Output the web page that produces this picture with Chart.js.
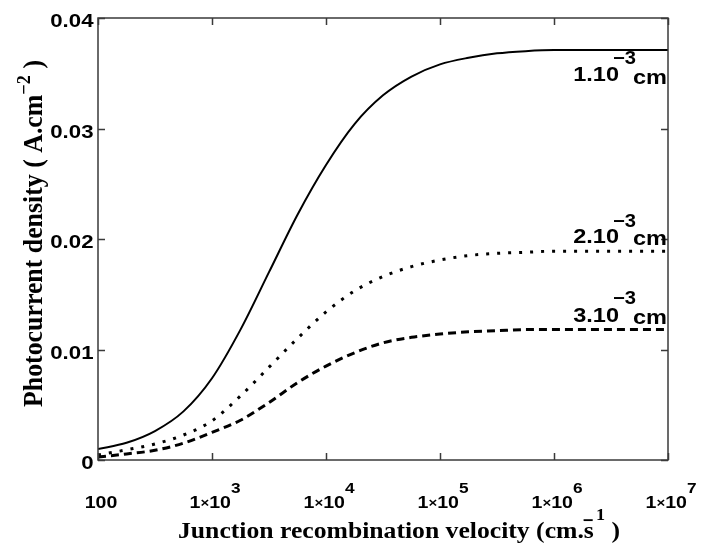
<!DOCTYPE html>
<html>
<head>
<meta charset="utf-8">
<script src="https://cdn.jsdelivr.net/npm/chart.js@4.4.0/dist/chart.umd.min.js"></script>
<style>
  html, body { margin: 0; padding: 0; background: #fff; }
  #wrap { width: 703px; height: 547px; }
</style>
</head>
<body>
<div id="wrap"><canvas id="chart" width="703" height="547"></canvas></div>
<script>
// junction recombination velocity (cm/s), quarter decades
const velocities = [100, 178, 316, 562, 1000, 1778, 3162, 5623, 10000, 17783, 31623, 56234,
                    100000, 177828, 316228, 562341, 1000000, 3162278, 10000000];
// photocurrent density (A/cm2) for the three depths
const current1 = [0.00099, 0.00156, 0.00262, 0.00440, 0.0074, 0.0118, 0.0170, 0.0222, 0.0267, 0.0304,
                  0.0330, 0.0347, 0.0358, 0.0364, 0.0368, 0.0370, 0.0371, 0.0371, 0.0371];
const current2 = [0.00045, 0.00092, 0.00145, 0.00226, 0.00355, 0.0058, 0.0084, 0.0110, 0.0134, 0.0153,
                  0.0166, 0.0175, 0.0181, 0.0185, 0.0187, 0.0188, 0.0189, 0.0189, 0.0189];
const current3 = [0.00027, 0.00055, 0.00088, 0.00152, 0.00250, 0.0036, 0.0052, 0.0070, 0.0085, 0.0097,
                  0.0106, 0.0111, 0.0114, 0.0116, 0.0117, 0.0118, 0.0118, 0.0118, 0.0118];
const curveNames = ["1.10", "2.10", "3.10"];

const xTicks = [100, 1000, 10000, 100000, 1000000, 10000000];
const xTickExp = ["", "3", "4", "5", "6", "7"];
const yTicks = [0, 0.01, 0.02, 0.03, 0.04];
const yTickLabels = ["0", "0.01", "0.02", "0.03", "0.04"];

const SANS = '"Liberation Sans", Arial, sans-serif';
const SERIF = '"Liberation Serif", "Times New Roman", serif';

function toPoints(ys) {
    return velocities.map((v, i) => ({ x: v, y: ys[i] }));
}

// draw a run of text pieces (for superscripts), scaled by sx / sy
// a piece with stay:true is drawn at an offset and does not move the pen
function drawRuns(ctx, runs, x, y, sx, sy, rot) {
    ctx.save();
    ctx.translate(x, y);
    if (rot) ctx.rotate(rot);
    ctx.scale(sx, sy);
    ctx.fillStyle = "#000";
    ctx.textAlign = "left";
    ctx.textBaseline = "alphabetic";
    let cx = 0;
    runs.forEach(r => {
        ctx.font = r.font;
        if (r.stay) {
            ctx.fillText(r.t, cx + (r.dx || 0), r.dy || 0);
        } else {
            cx += (r.dx || 0);
            ctx.fillText(r.t, cx, r.dy || 0);
            cx += ctx.measureText(r.t).width;
        }
    });
    ctx.restore();
}

function runsWidth(ctx, runs) {
    let w = 0;
    runs.forEach(r => {
        ctx.font = r.font;
        if (!r.stay) w += (r.dx || 0) + ctx.measureText(r.t).width;
    });
    return w;
}

const framePlugin = {
    id: "frame",
    afterDraw(chart) {
        const ctx = chart.ctx;
        const a = chart.chartArea;
        const xs = chart.scales.x;
        const ys = chart.scales.y;

        // box and inward ticks
        ctx.save();
        ctx.strokeStyle = "#3a3a3a";
        ctx.lineWidth = 1.5;
        ctx.strokeRect(a.left, a.top, a.right - a.left, a.bottom - a.top);
        ctx.beginPath();
        xTicks.forEach(v => {
            const px = Math.round(xs.getPixelForValue(v)) + 0.5;
            ctx.moveTo(px, a.bottom); ctx.lineTo(px, a.bottom - 7);
            ctx.moveTo(px, a.top); ctx.lineTo(px, a.top + 7);
        });
        yTicks.forEach(v => {
            const py = Math.round(ys.getPixelForValue(v)) + 0.5;
            ctx.moveTo(a.left, py); ctx.lineTo(a.left + 7, py);
            ctx.moveTo(a.right, py); ctx.lineTo(a.right - 7, py);
        });
        ctx.stroke();
        ctx.restore();

        // y tick labels
        const yFont = "bold 19px " + SANS;
        yTicks.forEach((v, i) => {
            const runs = [{ t: yTickLabels[i], font: yFont }];
            const w = runsWidth(ctx, runs) * 1.17;
            drawRuns(ctx, runs, a.left - 4.5 - w, ys.getPixelForValue(v) + 9, 1.17, 1);
        });

        // x tick labels
        const big = "bold 17px " + SANS;
        const times = "bold 13px " + SANS;
        const sup = "bold 15px " + SANS;
        xTicks.forEach((v, i) => {
            let runs;
            if (!xTickExp[i]) {
                runs = [{ t: "100", font: big }];
            } else {
                runs = [{ t: "1", font: big }, { t: "\u00d7", font: times, dy: -1 },
                        { t: "10", font: big }, { t: xTickExp[i], font: sup, dy: -15 }];
            }
            const w = runsWidth(ctx, runs) * 1.15;
            drawRuns(ctx, runs, xs.getPixelForValue(v) + 3 - w / 2, a.bottom + 48, 1.15, 1);
        });

        // curve labels
        const lblFont = "bold 21px " + SANS;
        const expFont = "bold 18px " + SANS;
        const ends = [current1, current2, current3].map(c => ys.getPixelForValue(c[c.length - 1]));
        const offs = [[31, 14, 34], [-8, -24, -6], [-8, -26, -6]];
        curveNames.forEach((name, i) => {
            const cm = [{ t: "cm", font: lblFont }];
            const ex = [{ t: "\u22123", font: expFont }];
            const nm = [{ t: name, font: lblFont }];
            const cmW = runsWidth(ctx, cm) * 1.12;
            const exW = runsWidth(ctx, ex) * 1.12;
            const nmW = runsWidth(ctx, nm) * 1.12;
            const cmX = a.right - 1 - cmW;
            const exX = cmX + 3 - exW;
            const nmX = exX + 6 - nmW;
            drawRuns(ctx, nm, nmX, ends[i] + offs[i][0], 1.12, 1);
            drawRuns(ctx, ex, exX, ends[i] + offs[i][1], 1.12, 1);
            drawRuns(ctx, cm, cmX, ends[i] + offs[i][2], 1.12, 1);
        });

        // x axis title
        const tFont = "bold 24px " + SERIF;
        const tSup = "bold 17px " + SERIF;
        const barFont = "bold 17px " + SANS;
        const xRuns = [
            { t: "Junction recombination velocity (cm.s", font: tFont },
            { t: "\u2212", font: barFont, dx: -10, dy: -12, stay: true },
            { t: "1", font: tSup, dy: -18, dx: 2 },
            { t: " )", font: tFont }
        ];
        const xw = runsWidth(ctx, xRuns);
        drawRuns(ctx, xRuns, 178, 538, 442 / xw, 1);

        // y axis title
        const yRuns = [
            { t: "Photocurrent density ( A.cm", font: tFont },
            { t: "\u22122", font: tSup, dy: -11 },
            { t: " )", font: tFont }
        ];
        const yw = runsWidth(ctx, yRuns);
        drawRuns(ctx, yRuns, 42, 407, 347 / yw, 1.12, -Math.PI / 2);
    }
};

new Chart(document.getElementById("chart"), {
    type: "line",
    data: {
        datasets: [
            { data: toPoints(current1), borderColor: "#000", borderWidth: 2 },
            { data: toPoints(current2), borderColor: "#000", borderWidth: 3, borderDash: [3, 8] },
            { data: toPoints(current3), borderColor: "#000", borderWidth: 3, borderDash: [8, 5] }
        ]
    },
    options: {
        responsive: false,
        animation: false,
        layout: { padding: { left: 98, right: 35, top: 18, bottom: 87 } },
        elements: {
            point: { radius: 0 },
            line: { cubicInterpolationMode: "monotone", borderCapStyle: "butt", fill: false }
        },
        scales: {
            x: { type: "logarithmic", min: 100, max: 10000000, display: false },
            y: { type: "linear", min: 0, max: 0.04, display: false }
        },
        plugins: { legend: { display: false }, tooltip: { enabled: false } }
    },
    plugins: [framePlugin]
});
</script>
</body>
</html>
